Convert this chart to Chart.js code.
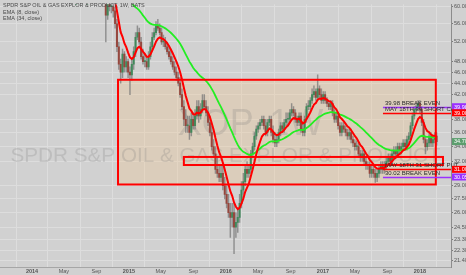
<!DOCTYPE html>
<html><head><meta charset="utf-8">
<script src="https://cdn.jsdelivr.net/npm/chart.js@4.4.1/dist/chart.umd.min.js"></script>
<style>html,body{margin:0;padding:0;background:#d1d1d1;}#w{width:466px;height:275px;position:relative}</style>
</head><body><div id="w"><canvas id="c"></canvas></div>
<script>
// ---- DATA (weekly candles, first week starting 2013-09-02) ----
const firstWeek = '2013-09-02';
const open = [
61,62,63,64,63,65,66,65,64,66,67,66,65,64,65,66,67,66,
65,68,67,69,70,71,72,71,73,74,73,75,76,75,77,78,79,
80,84,85,86,87,86,85,85,84,83,82,81,80,80,79,78,77,76,
75,
74,68,66,63,58,61,60,60,59,56,51,47.5,
46,49.5,47,48,46,45.5,
47.5,50,53,54,52,49,48,48,
47,49,51,53,54,55.5,55,
54,52,52,51,50,49,48,47,46,45,44,42,40,
38,37,37,36,38,37,38.5,40,38.5,39.5,
41,40,39,37.5,36,34,33,31,30.5,30,30.5,29,
28,27,26,25.5,26,24.5,25,25.5,27,
28.5,29.5,31,30.5,31,33,34,35.5,36.5,37,37.5,38,37,
36,37.5,38,36,35,34.5,35,36,37,36.5,37.5,
38,38,39,39.5,39,38,37.5,38.5,36.5,36,38,
40,40,41,42,42.5,41.5,43,42,41,42,41,40.5,40,
40.5,39,38,38.5,37,
36,37,36.5,36,35.5,36,35,34.5,34,
34,33,32.5,33,32,31.5,
31.5,30.5,31,30.5,30,30.5,31,31.5,
31,31.5,32,32.5,32,33,33.5,33,34,33.5,34,34.5,34,35,
35.5,37,38.5,39.5,40,40.5,39.5,37.5,35,34,34.5,35.5,34.5,35,35.5];
const high = [
63,64,65,65,66,67,67,66,67,68,68,67,66,66,67,68,68,67,
69,69,70,71,72,73,73,74,75,75,76,77,77,78,79,80,81,
85,86,87,88,88,87,86,86,85,84,83,82,81,81,80,79,78,77,
76,
75,69,67,64,62,62,61.5,61,60,57,52,48.5,
50.5,50,49,48.5,47,48.5,
51,54,55.5,55,53,50.5,49.5,49,
50,52,54,55,56.5,57,56,
55,53.5,53,52,51,50.5,49,48,47,46,45,43,41,
39.5,38.5,38.5,39,39,39.5,41,41,40.5,42,
42,41,40,38.5,37,35,34,32.5,31.5,31.5,31.5,30,
29,28,27,27,27,26,26.5,28,29.5,
30.5,31.5,32,31.5,33.5,34.5,36,37,37.5,38,38.5,38.5,38,
38,38.5,38.5,37,36,35.5,36.5,37.5,37.5,38,39,
39,39.5,40.5,40,39.5,38.5,39,39,37.5,38.5,40.5,
41,41.5,43,43.5,43,45.5,43.5,43,42.5,42.5,41.5,41,41,
41,39.5,39,39,37.5,
37.5,37.5,37,36.5,36.5,36.5,35.5,35,34.8,
34.5,33.5,33.5,33.5,32.5,32,
32,31.5,31.5,31,31,31.5,32,32,
32,32.5,33,33,33.5,34,34,34.5,34.5,34.5,35,35,35.5,36,
37.5,39,40,40.5,41,41,40,38,35.5,35,36,36,35.5,36,36];
const low = [
61,61.5,62.5,62.5,62.5,64,64,63.5,63.5,65.5,65.5,64.5,63.5,63.5,64.5,65.5,65.5,64.5,
64,66,66,68,69,70,70,70,72,72,72,74,74,74,76,77,78,
79,83,84,85,85,84,84,83,82,81,80,79,79,78,77,76,75,74,
73,
67,63,61.5,52,57,59,58.5,57.5,55,50,46.5,44,
45,46,46,45,42,44.5,
46.5,49,52.5,51.5,48.5,47.5,47,46.5,
46.5,48.5,50.5,52.5,53.5,54.5,53.5,
51.5,51,50.5,49.5,48.5,47.5,46.5,45.5,44.5,43.5,41.5,39.5,37,
36,36,35,35.5,36.5,36.5,38,37.5,38,39,
39.5,38.5,37,35.5,33.5,32.5,30.5,30,29.5,29.5,28.5,27.5,
26.5,25.5,23.5,24.5,22,23.5,24,25,26.5,
28,29,30,30,30.5,32.5,33.5,35,36,36.5,37,36.5,35.5,
35.5,37,35.5,34.5,34,34,34.5,35.5,36,36,37,
37,37.5,38.5,38.5,37.5,37,37,36,35.5,35.5,37.5,
39.5,39.5,40.5,41.5,41,41,41.5,40.5,40.5,40.5,40,39.5,39.5,
38.5,37.5,37.5,36.5,35.5,
35.5,36,35.5,35,35,34.5,34,33.5,33.5,
32.5,32,32,31.5,31,31,
30,30,30,29.4,29.5,30,30.5,30.5,
30.5,31,31.5,31.5,31.5,32.5,32.5,32.5,33,33,33.5,33.5,33.5,34.5,
35,36.5,38,39,39.5,39,37,34.5,33,33.5,34,34,34,34.5,34.2];
const close = [
62,63,64,63,65,66,65,64,66,67,66,65,64,65,66,67,66,65,
68,67,69,70,71,72,71,73,74,73,75,76,75,77,78,79,80,
84,85,86,87,86,85,85,84,83,82,81,80,80,79,78,77,76,75,
74,
68,66,63,58,61,60,60,59,56,51,47.5,46,
49.5,47,48,46,45.5,47.5,
50,53,54,52,49,48,48,47,
49,51,53,54,55.5,55,54,
52,52,51,50,49,48,47,46,45,44,42,40,38,
37,37,36,38,37,38.5,40,38.5,39.5,41,
40,39,37.5,36,34,33,31,30.5,30,30.5,29,28,
27,26,25.5,26,24.5,25,25.5,27,28.5,
29.5,31,30.5,31,33,34,35.5,36.5,37,37.5,38,37,36,
37.5,38,36,35,34.5,35,36,37,36.5,37.5,38,
38,39,39.5,39,38,37.5,38.5,36.5,36,38,40,
40,41,42,42.5,41.5,43,42,41,42,41,40.5,40,40.5,
39,38,38.5,37,36,
37,36.5,36,35.5,36,35,34.5,34,34,
33,32.5,33,32,31.5,31.5,
30.5,31,30.5,30,30.5,31,31.5,31,
31.5,32,32.5,32,33,33.5,33,34,33.5,34,34.5,34,35,35.5,
37,38.5,39.5,40,40.5,39.5,37.5,35,34,34.5,35.5,34.5,35,35.5,34.7];

const xTickDates  = ['2014-01-01','2014-05-01','2014-09-01','2015-01-01','2015-05-01','2015-09-01','2016-01-01','2016-05-01','2016-09-01','2017-01-01','2017-05-01','2017-09-01','2018-01-01'];
const xTickLabels = ['2014','May','Sep','2015','May','Sep','2016','May','Sep','2017','May','Sep','2018'];
const yTicks = [21.4,22.3,23.3,24.5,26,27.5,29,32,34,36,38,42,44,46,48,52,56,60];

const symbolTitle = 'SPDR S&P OIL & GAS EXPLOR & PRODUCT, 1W, BATS';
const legendLines = ['EMA (8, close)','EMA (34, close)'];
const wmTicker = 'XOP, 1W';
const wmName = 'SPDR S&P OIL & GAS EXPLOR & PRODUCT';

const zoneBig   = {start:'2014-11-21', end:'2018-03-02', hi:44.6, lo:29.15};
const zoneSmall = {start:'2015-07-27', end:'2018-03-29', hi:32.6, lo:31.55};
const levelStart = '2017-08-15';
const levels = [
  {price:39.98, kind:'purple', text:'39.98 BREAK EVEN', axis:'39.98'},
  {price:39.00, kind:'red',    text:'MAY 18TH 39 SHORT CALL', axis:'39.00'},
  {price:31.00, kind:'red',    text:'MAY 18TH 31 SHORT PUT', axis:'31.00'},
  {price:30.05, kind:'purple', text:'30.02 BREAK EVEN', axis:'30.05'}
];
const lastPrice = 34.70;

// ---- helpers ----
const DAY = 864e5;
const origin = Date.UTC(2013,8,1);
function dayOf(s){const [y,m,d]=s.split('-').map(Number);return (Date.UTC(y,m-1,d)-origin)/DAY;}
const w0 = dayOf(firstWeek);
const xs = close.map((_,i)=>w0+7*i);
function ema(src,n){const k=2/(n+1);const out=[];let e=src[0];src.forEach((v,i)=>{e=i?v*k+e*(1-k):v;out.push(e);});return out;}
const ema8 = ema(close,8), ema34 = ema(close,34);
const xTicks = xTickDates.map(dayOf);

const FAM = '"Liberation Sans", Arial, sans-serif';
const BULL='rgba(55,135,85,0.9)', BEAR='rgba(150,62,52,0.9)';
const COL = {red:'#ff0000', purple:'#9b30ff', green:'#5c9e6e'};

const annot = {
  id:'annot',
  beforeDatasetsDraw(chart){
    const {ctx, chartArea:a, scales:{x,y}} = chart;
    ctx.save();
    ctx.beginPath(); ctx.rect(a.left,a.top,a.right-a.left,a.bottom-a.top); ctx.clip();
    const bx1=x.getPixelForValue(dayOf(zoneBig.start)), bx2=x.getPixelForValue(dayOf(zoneBig.end));
    const by1=y.getPixelForValue(zoneBig.hi), by2=y.getPixelForValue(zoneBig.lo);
    ctx.fillStyle='rgba(240,195,140,0.32)';
    ctx.fillRect(bx1,by1,bx2-bx1,by2-by1);
    ctx.fillStyle='rgba(120,120,120,0.22)';
    ctx.textAlign='center'; ctx.textBaseline='middle';
    const cx=(a.left+a.right)/2;
    ctx.font='36px '+FAM;
    ctx.fillText(wmTicker, cx+25, a.top+(a.bottom-a.top)*0.46);
    ctx.font='22px '+FAM;
    let tw=ctx.measureText(wmName).width; const fs=22*430/tw;
    ctx.font=fs.toFixed(1)+'px '+FAM;
    ctx.fillText(wmName, cx, a.top+(a.bottom-a.top)*0.58);
    ctx.restore();
  },
  afterDatasetsDraw(chart){
    const {ctx, chartArea:a, scales:{x,y}} = chart;
    ctx.save();
    ctx.beginPath(); ctx.rect(a.left,a.top,a.right-a.left,a.bottom-a.top); ctx.clip();
    ctx.strokeStyle=COL.red; ctx.lineWidth=2;
    for (const z of [zoneBig, zoneSmall]){
      const x1=x.getPixelForValue(dayOf(z.start)), x2=x.getPixelForValue(dayOf(z.end));
      const y1=y.getPixelForValue(z.hi), y2=y.getPixelForValue(z.lo);
      ctx.strokeRect(x1,y1,x2-x1,y2-y1);
    }
    const lx=x.getPixelForValue(dayOf(levelStart));
    for (const L of levels){
      const py=Math.round(y.getPixelForValue(L.price))+0.5;
      ctx.strokeStyle=COL[L.kind]; ctx.lineWidth=1.5;
      ctx.beginPath(); ctx.moveTo(lx,py); ctx.lineTo(a.right,py); ctx.stroke();
    }
    ctx.restore();
    ctx.save();
    ctx.fillStyle='#2a2a2a'; ctx.font='6px '+FAM; ctx.textAlign='left'; ctx.textBaseline='alphabetic';
    for (const L of levels){
      const py=y.getPixelForValue(L.price);
      ctx.fillText(L.text, lx+2, py-2);
    }
    ctx.restore();
  },
  afterDraw(chart){
    const {ctx, chartArea:a, scales:{y}} = chart;
    ctx.save();
    ctx.fillStyle='#484848'; ctx.font='5.5px '+FAM; ctx.textAlign='left'; ctx.textBaseline='middle';
    ctx.fillText(symbolTitle, 3, 5.7);
    legendLines.forEach((t,i)=>ctx.fillText(t, 3, 12.3+6.3*i));
    const boxes = levels.map(L=>({v:L.price, txt:L.axis, c:COL[L.kind]}));
    boxes.push({v:lastPrice, txt:lastPrice.toFixed(2), c:COL.green});
    ctx.font='5.5px '+FAM; ctx.textBaseline='middle';
    for (const b of boxes){
      const py=y.getPixelForValue(b.v);
      ctx.fillStyle=b.c; ctx.fillRect(a.right+1, py-3.5, chart.width-a.right-1, 7);
      ctx.fillStyle='#ffffff'; ctx.fillText(b.txt, a.right+3, py+0.3);
    }
    ctx.restore();
  }
};

new Chart(document.getElementById('c'), {
  type:'bar',
  data:{datasets:[
    {type:'bar', label:'wick', data:xs.map((d,i)=>({x:d,y:[low[i],high[i]]})),
     backgroundColor:'rgba(120,120,120,0.75)', barThickness:0.8, grouped:false, order:3},
    {type:'bar', label:'body', data:xs.map((d,i)=>({x:d,y:[open[i],close[i]]})),
     backgroundColor:open.map((o,i)=>close[i]>=o?BULL:BEAR), barThickness:1.4, minBarLength:1, grouped:false, order:2},
    {type:'line', label:'EMA34', data:xs.map((d,i)=>({x:d,y:ema34[i]})), borderColor:'#22ee22', borderWidth:1.8, pointRadius:0, tension:0, order:1},
    {type:'line', label:'EMA8', data:xs.map((d,i)=>({x:d,y:ema8[i]})), borderColor:'#ff0000', borderWidth:2, pointRadius:0, tension:0, order:0}
  ]},
  options:{
    responsive:true, maintainAspectRatio:false, animation:false,
    layout:{padding:0},
    plugins:{legend:{display:false}, tooltip:{enabled:false}},
    scales:{
      x:{type:'linear', min:1.47, max:1700.2, offset:false,
        afterBuildTicks:s=>{s.ticks=xTicks.map(v=>({value:v}));},
        afterFit:s=>{s.height=8;},
        grid:{color:'#dddddd', drawTicks:false, lineWidth:1},
        border:{display:true, color:'#a6a6a6', width:1},
        ticks:{autoSkip:false, maxRotation:0, padding:1, color:'#555',
          font:c=>({size:5.5, family:FAM, weight: (c.tick && /^\d{4}$/.test(xTickLabels[xTicks.indexOf(c.tick.value)]||''))?'bold':'normal'}),
          callback:v=>xTickLabels[xTicks.indexOf(v)] ?? ''}
      },
      y:{type:'logarithmic', position:'right', min:20.85, max:60.6,
        afterBuildTicks:s=>{s.ticks=yTicks.map(v=>({value:v}));},
        afterFit:s=>{s.width=15;},
        grid:{color:'#dddddd', tickColor:'#7a7a7a', tickLength:2, lineWidth:1},
        border:{display:true, color:'#8c8c8c', width:1},
        ticks:{autoSkip:false, padding:1, color:'#555', font:{size:5.5, family:FAM},
          callback:v=>Number(v).toFixed(2)}
      }
    }
  },
  plugins:[annot]
});
</script></body></html>
